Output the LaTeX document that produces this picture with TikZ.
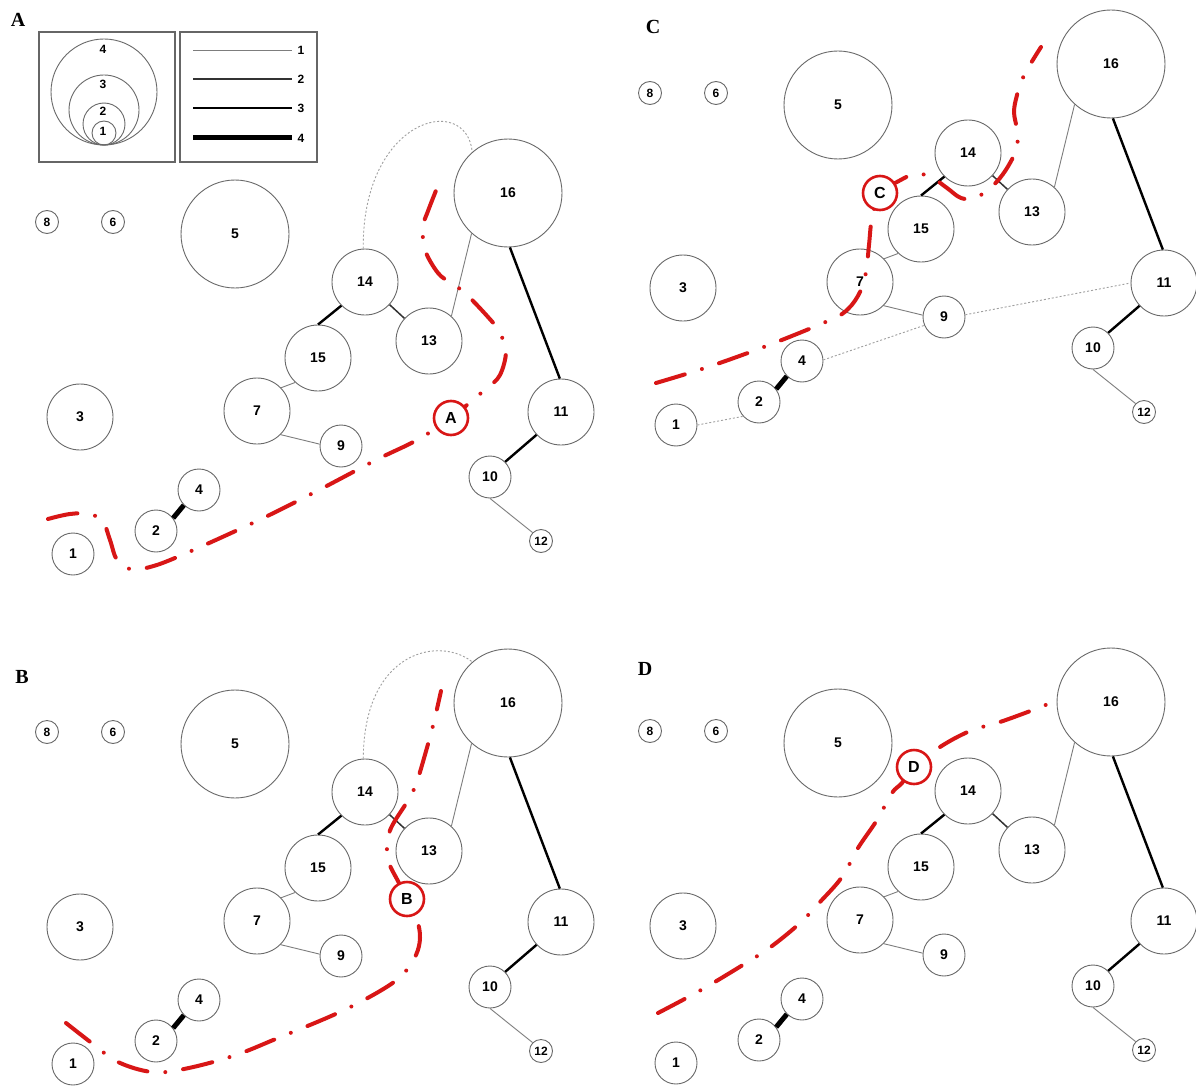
\documentclass[tikz,border=0pt]{standalone}
\usepackage{fontspec}
\setmainfont{Liberation Sans}
\newfontfamily\panelfont{Liberation Serif}
\definecolor{ncol}{RGB}{105,105,105}
\definecolor{thinc}{RGB}{125,125,125}
\definecolor{redc0}{RGB}{216,22,22}
\tikzset{
  nd/.style={circle,draw=ncol,line width=0.9pt,fill=white,inner sep=0pt,font=\fontsize{14}{14}\selectfont\bfseries},
  s1/.style={nd,minimum size=23pt,font=\fontsize{12}{12}\selectfont\bfseries},
  s2/.style={nd,minimum size=42pt},
  s3/.style={nd,minimum size=66pt},
  s4/.style={nd,minimum size=108pt},
  w1/.style={draw=thinc,line width=0.9pt},
  w2/.style={draw=black!80,line width=1.5pt},
  w3/.style={draw=black,line width=2.4pt},
  w4/.style={draw=black,line width=5pt},
  dotl/.style={draw=gray!75,line width=0.9pt,dash pattern=on 2pt off 2pt},
  redline/.style={draw=redc0,line width=4pt,line cap=round,dash pattern=on 30pt off 18pt on 0pt off 18pt},
  redmark/.style={circle,draw=redc0,line width=2.6pt,fill=white,minimum size=34pt,inner sep=0pt,font=\fontsize{16}{16}\selectfont\bfseries},
  plab/.style={font=\panelfont\fontsize{20}{20}\selectfont\bfseries,inner sep=0pt},
  lg/.style={circle,draw=ncol,line width=0.9pt,inner sep=0pt},
  lglab/.style={font=\fontsize{12}{12}\selectfont\bfseries,inner sep=0pt},
  lgbox/.style={draw=gray!80!black,line width=1.2pt}
}
\newcommand\netnodes[1]{%
  \node[s1] (#1-8) at (47,222) {8};
  \node[s1] (#1-6) at (113,222) {6};
  \node[s4] (#1-5) at (235,234) {5};
  \node[s3] (#1-3) at (80,417) {3};
  \node[s2] (#1-1) at (73,554) {1};
  \node[s2] (#1-2) at (156,531) {2};
  \node[s2] (#1-4) at (199,490) {4};
  \node[s3] (#1-7) at (257,411) {7};
  \node[s2] (#1-9) at (341,446) {9};
  \node[s3] (#1-15) at (318,358) {15};
  \node[s3] (#1-14) at (365,282) {14};
  \node[s3] (#1-13) at (429,341) {13};
  \node[s4] (#1-16) at (508,193) {16};
  \node[s3] (#1-11) at (561,412) {11};
  \node[s2] (#1-10) at (490,477) {10};
  \node[s1] (#1-12) at (541,541) {12};
}
\newcommand\netedges[1]{%
  \draw[w1] (#1-16.228) -- (#1-13.48);
  \draw[w3] (#1-16.272) -- (#1-11.92);
  \draw[w2] (#1-14) -- (#1-13);
  \draw[w3] (#1-14.225) -- (#1-15.north);
  \draw[w1] (#1-15.227) -- (#1-7.44);
  \draw[w1] (#1-7.315) -- (#1-9.175);
  \draw[w4] (#1-2.37) -- (#1-4.225);
  \draw[w3] (#1-11.223) -- (#1-10.45);
  \draw[w1] (#1-10.south) -- (#1-12.135);
}
\begin{document}
\begin{tikzpicture}[x=1pt,y=-1pt]
\useasboundingbox (0,0) rectangle (1196,1086);
\fill[white] (0,0) rectangle (1196,1086);

% ---------- legend ----------
\draw[lgbox] (39,32) rectangle (175,162);
\draw[lgbox] (180,32) rectangle (317,162);
\node[lg,minimum size=106pt] (lc4) at (104,92) {};
\node[lg,minimum size=70pt] (lc3) at (104,110) {};
\node[lg,minimum size=42pt] (lc2) at (104,124) {};
\node[lg,minimum size=24pt] (lc1) at (104,133) {};
\node[lglab] (lct4) at (103,49) {4};
\node[lglab] (lct3) at (103,84) {3};
\node[lglab] (lct2) at (103,111) {2};
\node[lglab] (lct1) at (103,131) {1};
\coordinate (ls1) at (193,50);
\coordinate (ls2) at (193,79);
\coordinate (ls3) at (193,108);
\coordinate (ls4) at (193,138);
\node[lglab] (lt1) at (301,50) {1};
\node[lglab] (lt2) at (301,79) {2};
\node[lglab] (lt3) at (301,108) {3};
\node[lglab] (lt4) at (301,138) {4};
\draw[w1] (ls1) -- ([xshift=-5pt]lt1.west);
\draw[w2] (ls2) -- ([xshift=-5pt]lt2.west);
\draw[w3] (ls3) -- ([xshift=-5pt]lt3.west);
\draw[w4] (ls4) -- ([xshift=-5pt]lt4.west);

% ---------- panel A ----------
\begin{scope}
  \netnodes{a}
  \netedges{a}
  \draw[dotl] (a-14.93) .. controls (362,118) and (466,92) .. (a-16.131);
\end{scope}
% ---------- panel B ----------
\begin{scope}[shift={(0,510)}]
  \netnodes{b}
  \netedges{b}
  \draw[dotl] (b-14.93) .. controls (364,140) and (440,126) .. (b-16.131);
\end{scope}
% ---------- panel C ----------
\begin{scope}[shift={(603,-129)}]
  \netnodes{c}
  \netedges{c}
  \draw[dotl] (c-1.0) -- (c-2.222);
  \draw[dotl] (c-4.3) -- (c-9.203);
  \draw[dotl] (c-9.6) -- (c-11.180);
\end{scope}
% ---------- panel D ----------
\begin{scope}[shift={(603,509)}]
  \netnodes{d}
  \netedges{d}
\end{scope}

% ---------- red boundary lines ----------
\draw[redline] plot[smooth,tension=0.6] coordinates {
 (48,519) (70,514) (90,514) (103,522) (110,540) (117,560) (130,569) (150,567)
 (182,555) (257,521) (317,491) (376,460) (417,440) (451,418) (475,398) (487,388)
 (500,375) (506,350) (498,330) (488,317) (465,293) (451,283) (438,273) (425,250)
 (423,227) (428,211) (439,183)};
\draw[redline] plot[smooth,tension=0.6] coordinates {
 (66,1023) (93,1044) (118,1062) (152,1072) (184,1069) (233,1056) (278,1038)
 (340,1012) (385,988) (405,972) (416,955) (420,938) (417,920) (407,899) (399,883)
 (389,863) (387,847) (391,828) (407,802) (415,787) (420,772) (430,737) (434,722)
 (441,691)};
\draw[redline] plot[smooth,tension=0.6] coordinates {
 (656,383) (708,367) (769,345) (830,320) (848,309) (860,292) (866,272) (869,245)
 (872,218) (880,193) (897,182) (915,174) (931,177) (947,188) (961,198) (975,198)
 (989,189) (1000,178) (1010,163) (1017,147) (1017,130) (1014,112) (1017,95)
 (1022,80) (1028,68) (1041,47)};
\draw[redline] plot[smooth,tension=0.6] coordinates {
 (658,1013) (701,990) (746,963) (772,946) (800,923) (820,902) (842,877) (858,848)
 (877,820) (892,793) (902,783) (914,767) (940,747) (970,731) (1000,722) (1033,710)
 (1048,704)};
\node[redmark] (mA) at (451,418) {A};
\node[redmark] (mB) at (407,899) {B};
\node[redmark] (mC) at (880,193) {C};
\node[redmark] (mD) at (914,767) {D};

% ---------- panel letters ----------
\node[plab] (pA) at (18,20) {A};
\node[plab] (pB) at (22,677) {B};
\node[plab] (pC) at (653,27) {C};
\node[plab] (pD) at (645,669) {D};
\end{tikzpicture}
\end{document}
